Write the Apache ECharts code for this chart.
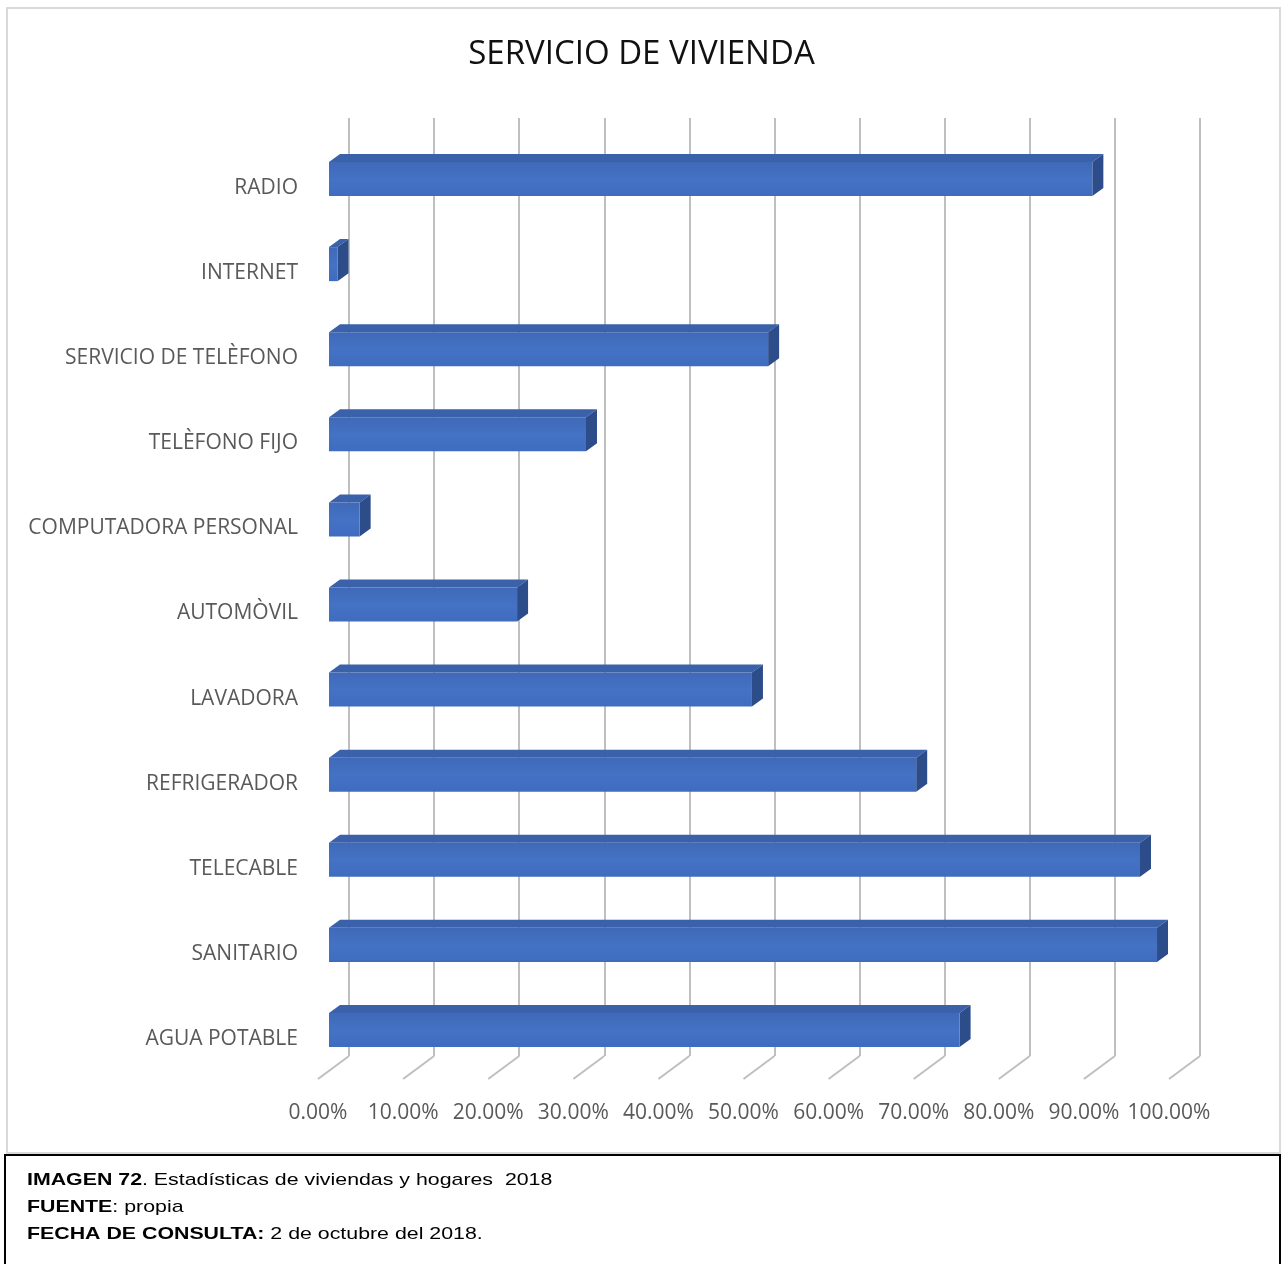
<!DOCTYPE html>
<html>
<head>
<meta charset="utf-8">
<script src="https://cdn.jsdelivr.net/npm/echarts@6/dist/echarts.min.js"></script>
<style>
  html, body { margin: 0; padding: 0; background: #fff; }
  #main { width: 1283px; height: 1264px; }
</style>
</head>
<body>
<div id="main"></div>
<script>
// categories, bottom to top (as the category axis draws them)
var categories = ['AGUA POTABLE', 'SANITARIO', 'TELECABLE', 'REFRIGERADOR', 'LAVADORA',
    'AUTOMÒVIL', 'COMPUTADORA PERSONAL', 'TELÈFONO FIJO', 'SERVICIO DE TELÈFONO', 'INTERNET', 'RADIO'];
var values = [0.741, 0.973, 0.953, 0.690, 0.497, 0.221, 0.036, 0.302, 0.516, 0.010, 0.897];
var ticks = [0, 0.1, 0.2, 0.3, 0.4, 0.5, 0.6, 0.7, 0.8, 0.9, 1];

var font = '"Open Sans", sans-serif';
var labelColor = '#595959';
var frontColor = '#4472c4';
var topColor = '#3a61aa';
var sideColor = '#2d4c8a';

var chart = echarts.init(document.getElementById('main'));

// bar depth offset
var dx = 11, dy = 8;

function renderBar(params, api) {
    var idx = api.value(0);
    var v = api.value(1);
    var p0 = api.coord([0, idx]);
    var p1 = api.coord([v, idx]);
    var h = api.size([0, 1])[1] * 0.4;
    var x0 = p0[0], x1 = p1[0];
    var yt = p0[1] - h / 2, yb = p0[1] + h / 2;
    return {
        type: 'group',
        children: [
            {
                type: 'polygon',
                shape: { points: [[x0, yt], [x0 + dx, yt - dy], [x1 + dx, yt - dy], [x1, yt]] },
                style: { fill: topColor }
            },
            {
                type: 'polygon',
                shape: { points: [[x1, yt], [x1 + dx, yt - dy], [x1 + dx, yb - dy], [x1, yb]] },
                style: { fill: sideColor }
            },
            {
                type: 'rect',
                shape: { x: x0, y: yt, width: x1 - x0, height: h },
                style: {
                    fill: new echarts.graphic.LinearGradient(0, 0, 0, 1, [
                        { offset: 0, color: '#4069b8' },
                        { offset: 0.5, color: frontColor },
                        { offset: 1, color: '#3f6cbe' }
                    ])
                }
            }
        ]
    };
}

function renderFloor(params, api) {
    var v = api.value(0);
    var p = api.coord([v, 0]);
    var cs = params.coordSys;
    var yb = cs.y + cs.height;
    return {
        type: 'line',
        shape: { x1: p[0], y1: yb, x2: p[0] - 31, y2: yb + 23 },
        style: { stroke: '#bfbfbf', lineWidth: 2 }
    };
}

var option = {
    backgroundColor: '#fff',
    animation: false,
    title: {
        text: 'SERVICIO DE VIVIENDA',
        left: 'center',
        top: 33,
        textStyle: { fontFamily: font, fontSize: 33, fontWeight: 'normal', color: '#111' }
    },
    grid: [
        // back wall
        { left: 349, right: 83, top: 118, bottom: 208 },
        // bars (front face plane)
        { left: 329, right: 103, top: 136.5, bottom: 191.5 },
        // floor front edge, carries the value labels
        { left: 318, right: 114, top: 118, bottom: 186 },
        // category labels, sit a bit below the bar middles
        { left: 329, right: 103, top: 145.5, bottom: 182.5 }
    ],
    xAxis: [
        {
            gridIndex: 0, type: 'value', min: 0, max: 1, interval: 0.1,
            axisLine: { show: false }, axisTick: { show: false }, axisLabel: { show: false },
            splitLine: { show: true, lineStyle: { color: '#bfbfbf', width: 2 } }
        },
        { gridIndex: 1, type: 'value', min: 0, max: 1, interval: 0.1, show: false },
        {
            gridIndex: 2, type: 'value', min: 0, max: 1, interval: 0.1,
            axisLine: { show: false }, axisTick: { show: false }, splitLine: { show: false },
            axisLabel: {
                margin: 25, showMinLabel: true, showMaxLabel: true,
                color: labelColor, fontFamily: font, fontSize: 21,
                formatter: function (v) { return (v * 100).toFixed(2) + '%'; }
            }
        },
        { gridIndex: 3, type: 'value', min: 0, max: 1, show: false }
    ],
    yAxis: [
        { gridIndex: 0, type: 'value', min: 0, max: 1, show: false },
        { gridIndex: 1, type: 'category', data: categories, show: false },
        { gridIndex: 2, type: 'value', min: 0, max: 1, show: false },
        {
            gridIndex: 3, type: 'category', data: categories,
            axisLine: { show: false }, axisTick: { show: false }, splitLine: { show: false },
            axisLabel: { margin: 31, color: labelColor, fontFamily: font, fontSize: 21 }
        }
    ],
    series: [
        {
            type: 'custom',
            xAxisIndex: 0, yAxisIndex: 0,
            renderItem: renderFloor,
            data: ticks.map(function (t) { return [t]; }),
            silent: true
        },
        {
            type: 'custom',
            xAxisIndex: 1, yAxisIndex: 1,
            renderItem: renderBar,
            encode: { x: 1, y: 0 },
            data: values.map(function (v, i) { return [i, v]; })
        }
    ],
    graphic: [
        {
            type: 'rect', silent: true,
            shape: { x: 7, y: 8, width: 1273, height: 1145 },
            style: { fill: 'none', stroke: '#d9d9d9', lineWidth: 2 }
        },
        {
            type: 'rect', silent: true,
            shape: { x: 5, y: 1155, width: 1275, height: 120 },
            style: { fill: '#fff', stroke: '#000', lineWidth: 2 }
        },
        {
            type: 'text', x: 27, y: 1167, scaleX: 1.255,
            style: {
                text: '{b|IMAGEN 72}. Estadísticas de viviendas y hogares  2018\n{b|FUENTE}: propia\n{b|FECHA DE CONSULTA:} 2 de octubre del 2018.',
                font: '17px "Liberation Sans", Arial, sans-serif',
                fill: '#000',
                lineHeight: 27,
                rich: {
                    b: { fontWeight: 'bold', fontFamily: '"Liberation Sans", Arial, sans-serif', fontSize: 17, fill: '#000', lineHeight: 27 }
                }
            }
        }
    ]
};

chart.setOption(option);
</script>
</body>
</html>
